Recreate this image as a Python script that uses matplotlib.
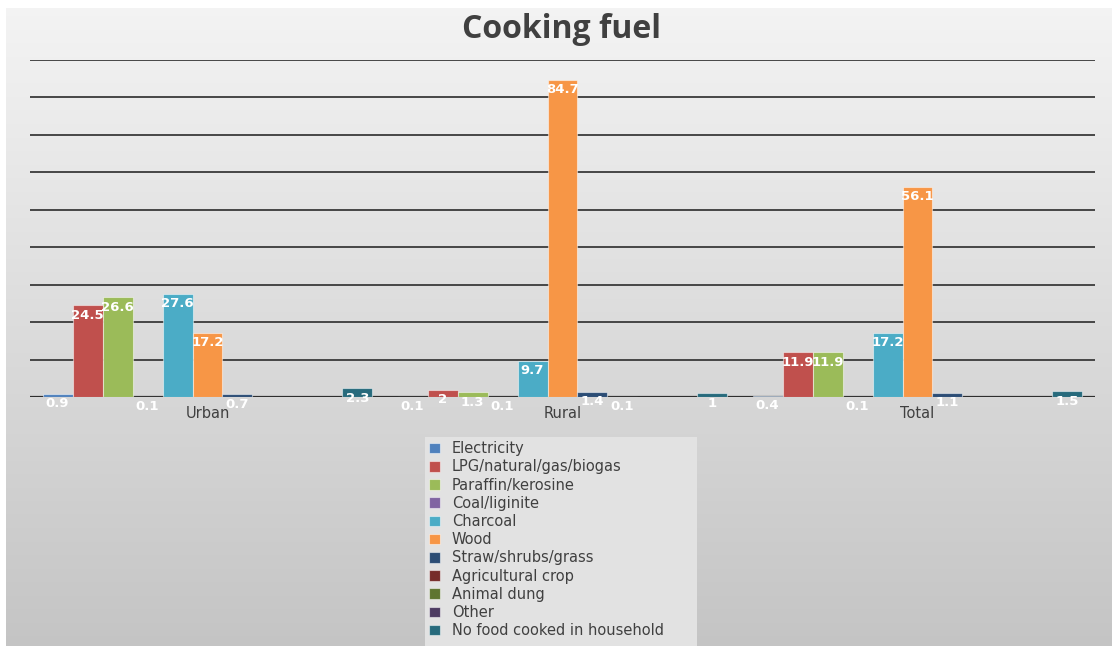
import numpy as np
import matplotlib
matplotlib.use("Agg")
import matplotlib.pyplot as plt
from matplotlib.patches import Rectangle

plt.rcParams['font.family'] = ['DejaVu Sans']

# cooking fuel shares (%) by area
categories = ['Urban', 'Rural', 'Total']
fuels = ['Electricity', 'LPG/natural/gas/biogas', 'Paraffin/kerosine', 'Coal/liginite',
         'Charcoal', 'Wood', 'Straw/shrubs/grass', 'Agricultural crop', 'Animal dung',
         'Other', 'No food cooked in household']
electricity = [0.9, 0.1, 0.4]
lpg = [24.5, 2, 11.9]
paraffin = [26.6, 1.3, 11.9]
coal = [0.1, 0.1, 0.1]
charcoal = [27.6, 9.7, 17.2]
wood = [17.2, 84.7, 56.1]
straw = [0.7, 1.4, 1.1]
agri_crop = [None, 0.1, None]
animal_dung = [None, None, None]
other = [None, None, None]
no_food = [2.3, 1, 1.5]
series = [electricity, lpg, paraffin, coal, charcoal, wood, straw,
          agri_crop, animal_dung, other, no_food]

colors = ['#4F81BD', '#C0504D', '#9BBB59', '#8064A2', '#4BACC6', '#F79646',
          '#2C4D75', '#772C2A', '#5F7530', '#4D3B62', '#276A7C']

W, H = 1112, 646
fig = plt.figure(figsize=(W / 100, H / 100), dpi=100)
fig.patch.set_facecolor('white')

# gray gradient panel behind the chart
bg = fig.add_axes([6 / W, 0, 1 - 6 / W, 1 - 8 / H])
grad = np.linspace(0.955, 0.77, 256).reshape(-1, 1)
bg.imshow(np.dstack([grad, grad, grad]), aspect='auto', extent=[0, 1, 0, 1])
bg.axis('off')

ax = fig.add_axes([30 / W, 1 - 397 / H, 1065 / W, (397 - 60) / H])
ax.set_facecolor('none')

n = len(series)
width = 0.0845
x = np.arange(len(categories))
for i, (vals, name, c) in enumerate(zip(series, fuels, colors)):
    pos = x + (i - (n - 1) / 2) * width
    heights = [v if v is not None else np.nan for v in vals]
    ax.bar(pos, heights, width=width, color=c, edgecolor=(1, 1, 1, 0.5),
           linewidth=0.8, label=name, zorder=3)
    for px, v in zip(pos, vals):
        if v is None:
            continue
        ax.annotate(f'{v:g}', (px, v), xytext=(0, -10), textcoords='offset pixels',
                    ha='center', va='center', color='white', fontsize=9.5,
                    fontweight='bold', zorder=4)

ax.set_xlim(-0.5, 2.5)
ax.set_ylim(0, 90)
ax.set_yticks(np.arange(0, 91, 10))
ax.yaxis.grid(True, color='#3a3a3a', linewidth=1.3, zorder=0)
ax.set_axisbelow(True)
for s in ax.spines.values():
    s.set_visible(False)
ax.axhline(0, color='#2e2e2e', linewidth=1.6, zorder=2)
ax.tick_params(left=False, bottom=False, labelleft=False)
ax.set_xticks(x)
ax.set_xticklabels(categories, fontsize=10.5, color='#404040')
ax.tick_params(axis='x', pad=3)

fig.text(561 / W, 1 - 29 / H, 'Cooking fuel', ha='center', va='center',
         fontsize=23, fontweight='bold', color='#404040', family='Open Sans')

# legend panel reaching the bottom edge
fig.patches.append(Rectangle((425 / W, 0), 272 / W, 209 / H, transform=fig.transFigure,
                             facecolor='#e2e2e2', edgecolor='none', zorder=1))
leg = fig.legend(loc='upper left', bbox_to_anchor=(424 / W, 1 - 436 / H),
                 frameon=False, fontsize=10.5, handlelength=0.75, handleheight=0.75,
                 handletextpad=0.8, labelspacing=0.22, borderpad=0.35,
                 borderaxespad=0)
for t in leg.get_texts():
    t.set_color('#404040')

fig.savefig('out.png', dpi=100)
